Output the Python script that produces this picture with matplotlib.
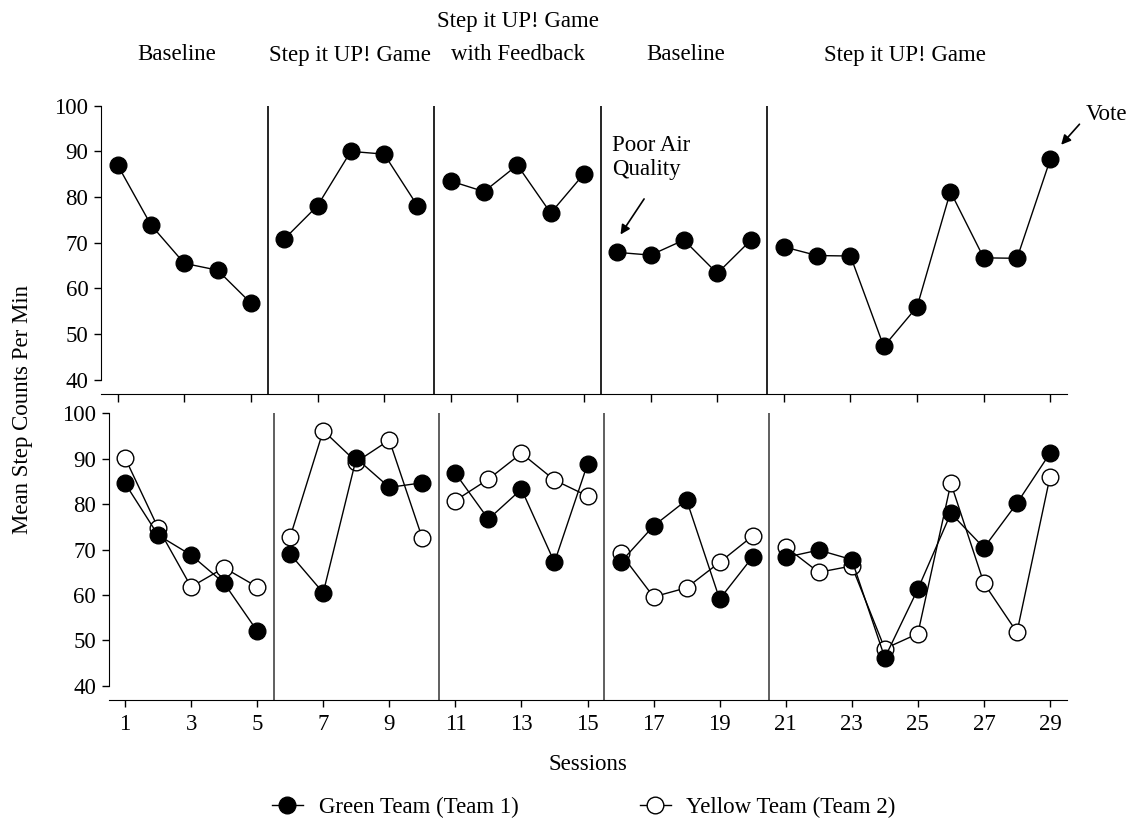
import numpy as np
import matplotlib
matplotlib.use("Agg")
import matplotlib.pyplot as plt
from matplotlib.lines import Line2D

plt.rcParams['font.family'] = ['Liberation Serif', 'DejaVu Serif']
plt.rcParams['font.size'] = 16.5

sessions = np.arange(1, 30)
phaseBreaks = [5.5, 10.5, 15.5, 20.5]
phaseSegments = [(1, 5), (6, 10), (11, 15), (16, 20), (21, 29)]

# top panel: combined (green markers)
topGreen = [87.0, 73.9, 65.5, 64.0, 56.8,
            70.8, 78.1, 90.0, 89.4, 78.1,
            83.5, 81.2, 87.0, 76.5, 85.1,
            67.9, 67.3, 70.6, 63.3, 70.5,
            69.1, 67.2, 67.1, 47.3, 56.0, 81.2, 66.7, 66.6, 88.3]

# bottom panel: teams
greenTeam = [84.6, 73.2, 68.8, 62.6, 52.1,
             69.0, 60.5, 90.1, 83.7, 84.7,
             86.8, 76.7, 83.3, 67.2, 88.8,
             67.2, 75.2, 80.9, 59.1, 68.4,
             68.3, 69.9, 67.8, 46.2, 61.3, 78.0, 70.4, 80.2, 91.2]
yellowTeam = [90.2, 74.8, 61.8, 66.0, 61.8,
              72.8, 96.2, 89.3, 94.1, 72.5,
              80.8, 85.5, 91.2, 85.3, 81.8,
              69.2, 59.6, 61.6, 67.2, 73.0,
              70.6, 65.0, 66.4, 48.2, 51.5, 84.6, 62.6, 51.8, 86.0]

phaseLabels = ["Baseline", "Step it UP! Game", "Step it UP! Game\nwith Feedback",
               "Baseline", "Step it UP! Game"]
phaseLabelX = [177, 350, 518, 686, 905]

W, H = 1131, 821
fig = plt.figure(figsize=(W / 100, H / 100), dpi=100)

ax1 = fig.add_axes([101 / W, 1 - 394 / H, (1067 - 101) / W, (394 - 105.7) / H])
ax2 = fig.add_axes([108.5 / W, 1 - 700 / H, (1066.5 - 108.5) / W, (700 - 413.3) / H])


def plotPhases(ax, values, face, z):
    vals = np.array(values)
    for (a, b) in phaseSegments:
        idx = slice(a - 1, b)
        ax.plot(sessions[idx], vals[idx], color='black', lw=1.0,
                marker='o', markersize=12, markerfacecolor=face,
                markeredgecolor='black', markeredgewidth=1.0, zorder=z)


def styleAx(ax, lineColor, tickLen):
    ax.set_xlim(0.5, 29.5)
    ax.set_ylim(36.9, 100)
    ax.spines['top'].set_visible(False)
    ax.spines['right'].set_visible(False)
    ax.spines['left'].set_bounds(40, 100)
    ax.set_yticks(np.arange(40, 101, 10))
    ax.set_xticks(np.arange(1, 30, 2))
    ax.tick_params(axis='y', direction='out', length=5, width=1, pad=4)
    ax.tick_params(axis='x', direction='out', length=tickLen, width=1, pad=5)
    for b in phaseBreaks:
        ax.axvline(b, color=lineColor, lw=1.2, zorder=1)


plotPhases(ax1, topGreen, 'black', 3)
styleAx(ax1, 'black', 6)
ax1.set_xticklabels([])

plotPhases(ax2, yellowTeam, 'white', 3)
plotPhases(ax2, greenTeam, 'black', 4)
styleAx(ax2, '#444444', 5)
ax2.set_xlabel("Sessions", labelpad=14)

# annotations
ax1.text(15.84, 88.7, "Poor Air\nQuality", ha='left', va='center',
         linespacing=1.15, clip_on=False)
ax1.annotate("", xy=(16.05, 71.3), xytext=(16.85, 80.1),
             arrowprops=dict(arrowstyle='-|>', color='black', lw=1.2, mutation_scale=14),
             annotation_clip=False)
ax1.annotate("", xy=(29.27, 91.0), xytext=(29.93, 96.4),
             arrowprops=dict(arrowstyle='-|>', color='black', lw=1.2, mutation_scale=14),
             annotation_clip=False)
ax1.text(30.05, 98.0, "Vote", ha='left', va='center', clip_on=False)

fig.text(23 / W, 1 - 410 / H, "Mean Step Counts Per Min", rotation=90,
         ha='center', va='center')

for lab, px in zip(phaseLabels, phaseLabelX):
    lines = lab.split("\n")
    for k, ln in enumerate(reversed(lines)):
        fig.text(px / W, 1 - (55 - 33 * k) / H, ln, ha='center', va='center')

handles = [Line2D([], [], color='black', lw=1.0, marker='o', markersize=12,
                  markerfacecolor='black', markeredgecolor='black'),
           Line2D([], [], color='black', lw=1.0, marker='o', markersize=12,
                  markerfacecolor='white', markeredgecolor='black')]
fig.legend(handles, ["Green Team (Team 1)", "Yellow Team (Team 2)"], ncol=2,
           loc='center left', bbox_to_anchor=(272 / W, 1 - 807 / H), frameon=False,
           borderaxespad=0, borderpad=0,
           handlelength=1.35, handletextpad=0.68, columnspacing=5.3)

fig.savefig("out.png", dpi=100)
